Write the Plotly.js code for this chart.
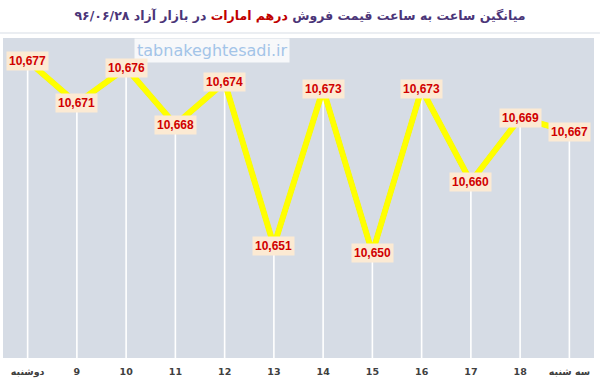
<!DOCTYPE html>
<html>
<head>
<meta charset="utf-8">
<script src="https://cdn.plot.ly/plotly-3.0.1.min.js"></script>
<style>html,body{margin:0;padding:0;background:#fff}#chart{width:600px;height:382px}</style>
</head>
<body>
<div id="chart"></div>
<script>
var categories = ["دوشنبه", "9", "10", "11", "12", "13", "14", "15", "16", "17", "18", "سه شنبه"];
var prices = [10677, 10671, 10676, 10668, 10674, 10651, 10673, 10650, 10673, 10660, 10669, 10667];
var titlePart1 = "میانگین ساعت به ساعت قیمت فروش ";
var titleRed = "درهم امارات";
var titlePart2 = " در بازار آزاد ۹۶/۰۶/۲۸";
var watermark = "tabnakeghtesadi.ir";

var yMin = 10635.25, yMax = 10680.2;
var idx = categories.map(function(c, i){ return i; });

function fmt(v) { return v.toLocaleString('en-US'); }

var base = {
  x: idx, y: prices, type: 'scatter', mode: 'markers', marker: {size: 1, color: 'rgba(0,0,0,0)'},
  hoverinfo: 'skip', showlegend: false
};
var shadow = {
  x: idx, y: prices, type: 'scatter', mode: 'lines', xaxis: 'x2', yaxis: 'y2',
  line: {color: '#5b8fc7', width: 5}, hoverinfo: 'skip', showlegend: false
};
var drop = {
  x: idx, y: prices, type: 'scatter', mode: 'markers', xaxis: 'x3', yaxis: 'y3',
  marker: {size: 1, color: 'rgba(0,0,0,0)'},
  error_y: {type: 'data', symmetric: false, array: prices.map(function(){return 0;}),
            arrayminus: prices.map(function(v){return v - yMin;}), width: 0, color: '#ffffff', thickness: 1.6},
  hoverinfo: 'skip', showlegend: false
};
var main = {
  x: idx, y: prices, type: 'scatter', mode: 'lines', xaxis: 'x3', yaxis: 'y3',
  line: {color: '#ffff00', width: 6}, showlegend: false
};

var annotations = [{xref: 'paper', yref: 'paper', x: 0.222, y: 0.962, xanchor: 'left', yanchor: 'middle',
  text: watermark, showarrow: false, bgcolor: 'rgba(255,255,255,0.8)', borderpad: 2,
  font: {family: 'DejaVu Sans, sans-serif', size: 16, color: '#a3c4e8'}}];
categories.forEach(function(c, i) {
  annotations.push({x: i, y: prices[i], xref: 'x3', yref: 'y3', text: '<b>' + fmt(prices[i]) + '</b>', showarrow: false,
          xanchor: 'center', yanchor: 'middle', bgcolor: '#fcead3', borderpad: 2,
          font: {family: 'Liberation Sans, Arial, sans-serif', size: 12, color: '#d00000'}});
});

var layout = {
  width: 600, height: 382,
  margin: {l: 3, r: 6, t: 38, b: 24},
  paper_bgcolor: '#ffffff', plot_bgcolor: '#d6dce5',
  title: {text: '<b>' + titlePart1 + '<span style="color:#c00000">' + titleRed + '</span>' + titlePart2 + '</b>',
          x: 0.5, xanchor: 'center', y: 0.958, yanchor: 'middle',
          font: {family: 'DejaVu Sans, sans-serif', size: 12.5, color: '#4b3578'}},
  xaxis: {range: [-0.5, 11.5], domain: [0, 1], showgrid: false, zeroline: false, showline: false,
          tickmode: 'array', tickvals: idx, ticktext: categories, ticks: '', ticklabelstandoff: 6,
          tickfont: {family: 'DejaVu Sans, sans-serif', size: 9.5, color: '#404040', weight: 'bold'}},
  yaxis: {range: [yMin, yMax], domain: [0, 1], showgrid: false, zeroline: false, showticklabels: false, ticks: ''},
  xaxis2: {range: [-0.5, 11.5], domain: [0.004, 1], overlaying: 'x', anchor: 'y2', visible: false},
  yaxis2: {range: [yMin, yMax], domain: [0, 0.994], overlaying: 'y', anchor: 'x2', visible: false},
  xaxis3: {range: [-0.5, 11.5], domain: [0, 1], overlaying: 'x', anchor: 'y3', visible: false},
  yaxis3: {range: [yMin, yMax], domain: [0, 1], overlaying: 'y', anchor: 'x3', visible: false},
  shapes: [{type: 'line', xref: 'paper', yref: 'paper', x0: -0.005, x1: 1.01, y0: 1.016, y1: 1.016,
            line: {color: '#e4e8ee', width: 1.5}}],
  annotations: annotations
};

Plotly.newPlot('chart', [base, shadow, drop, main], layout, {displayModeBar: false, staticPlot: true});
</script>
</body>
</html>
